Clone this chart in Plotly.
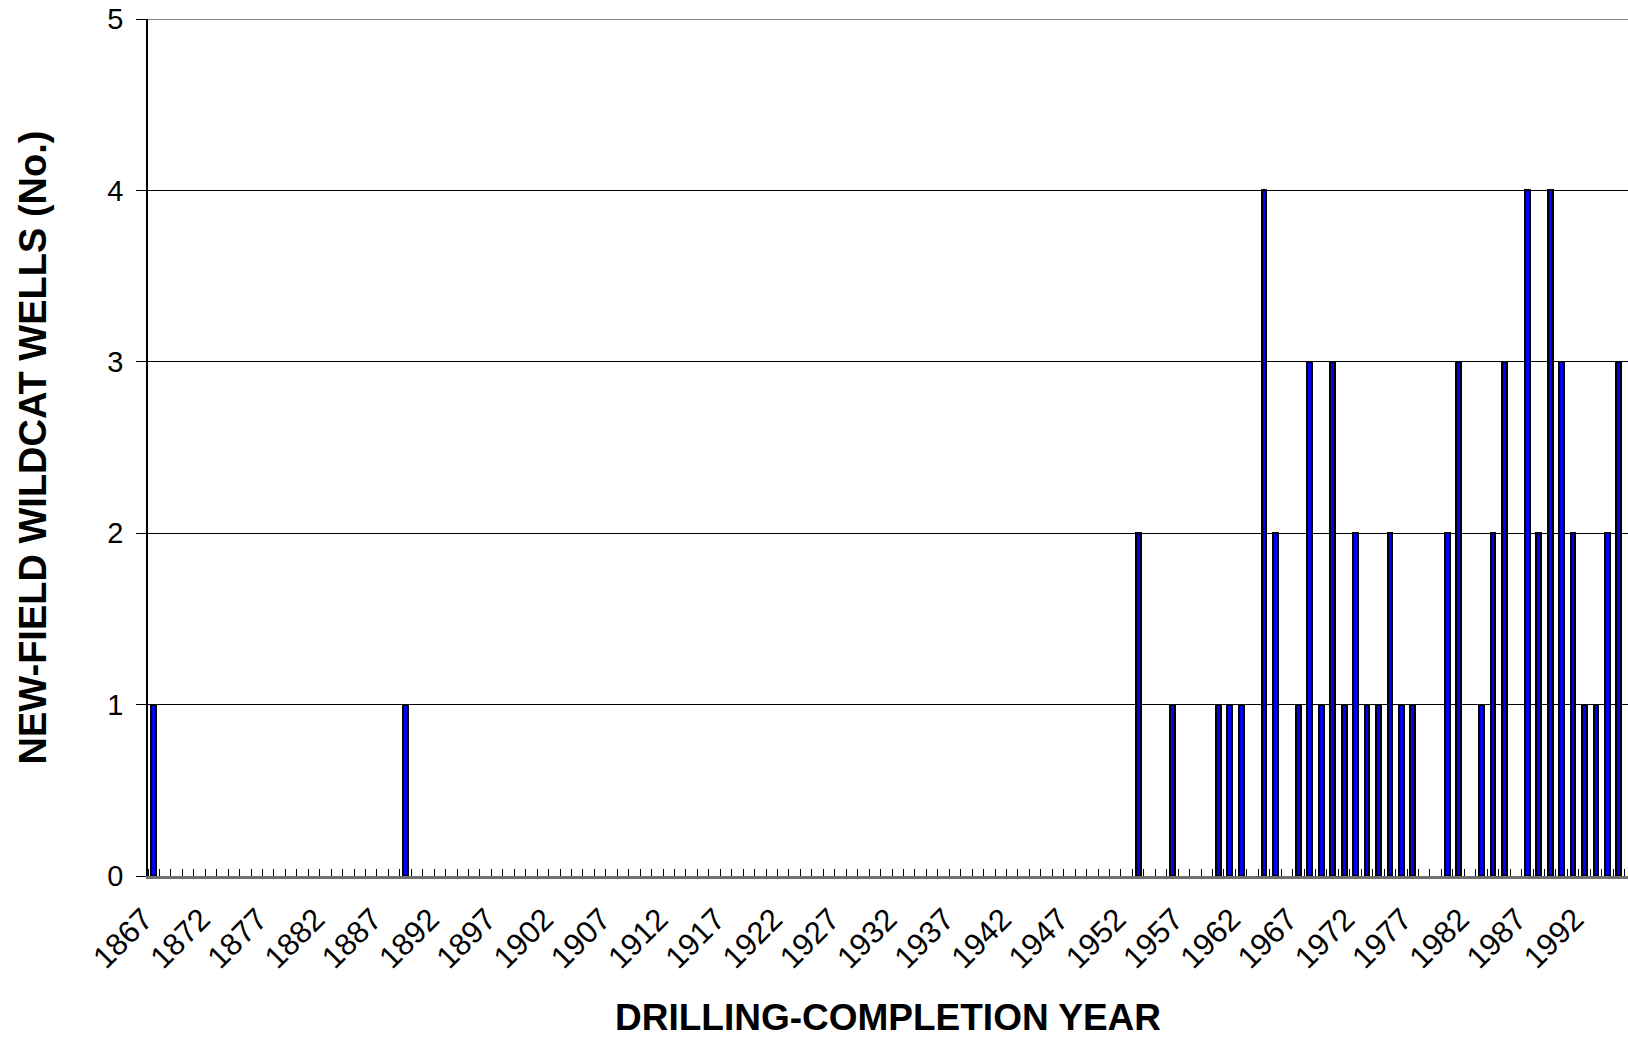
import plotly.graph_objects as go

# Drilling-completion years (categories) and new-field wildcat well counts
years = list(range(1867, 1996))
nonzero_counts = {
    1867: 1, 1889: 1, 1953: 2, 1956: 1, 1960: 1, 1961: 1, 1962: 1,
    1964: 4, 1965: 2, 1967: 1, 1968: 3, 1969: 1, 1970: 3, 1971: 1,
    1972: 2, 1973: 1, 1974: 1, 1975: 2, 1976: 1, 1977: 1, 1980: 2,
    1981: 3, 1983: 1, 1984: 2, 1985: 3, 1987: 4, 1988: 2, 1989: 4,
    1990: 3, 1991: 2, 1992: 1, 1993: 1, 1994: 2, 1995: 3,
}
wells = [nonzero_counts.get(y, 0) for y in years]

tick_years = list(range(1867, 1996, 5))
tick_labels = [str(y) for y in tick_years]

y_title = "NEW-FIELD WILDCAT WELLS (No.)"
x_title = "DRILLING-COMPLETION YEAR"

FONT = "Liberation Sans, Arial, sans-serif"

fig = go.Figure()
fig.add_trace(go.Bar(
    x=years,
    y=[v if v else None for v in wells],
    width=0.42,
    marker=dict(color="#0000FF", line=dict(color="black", width=2)),
    showlegend=False,
    hoverinfo="x+y",
))

fig.update_layout(
    width=1628, height=1038,
    margin=dict(l=148, r=0, t=19, b=162, autoexpand=False),
    paper_bgcolor="white", plot_bgcolor="white",
    font=dict(family=FONT, color="black", size=29),
    bargap=0,
)

fig.update_xaxes(
    automargin=False,
    range=[1866.5, 1995.8],
    tickmode="array", tickvals=tick_years, ticktext=tick_labels,
    tickangle=-45, ticks="", tickfont=dict(size=31, family=FONT, color="black"),
    ticklabelshift=-10, ticklabelstandoff=10,
    showgrid=False, zeroline=False,
    showline=True, linecolor="#707070", linewidth=2.5,
    minor=dict(ticks="inside", tick0=1866.5, dtick=1, ticklen=7,
               tickcolor="black", tickwidth=1, showgrid=False),
    title=dict(text=x_title, font=dict(size=37, family=FONT, color="black", weight="bold"),
               standoff=40),
)

fig.update_yaxes(
    automargin=False,
    range=[0, 5], dtick=1, tick0=0,
    ticks="outside", ticklen=10, tickcolor="black", tickwidth=1,
    ticklabelstandoff=7,
    tickfont=dict(size=29, family=FONT, color="black"),
    showgrid=True, gridcolor="black", gridwidth=1,
    zeroline=False,
    showline=True, linecolor="black", linewidth=1.5,
    title=dict(text=y_title, font=dict(size=38, family=FONT, color="black", weight="bold"),
               standoff=49),
)

# top gridline at the upper end of the value axis
fig.add_hline(y=5, line=dict(color="#606060", width=1.5))

fig.write_html(
    "out.html",
    config={"displayModeBar": False},
    post_script="document.body.style.margin='0';document.body.style.overflow='hidden';",
)
